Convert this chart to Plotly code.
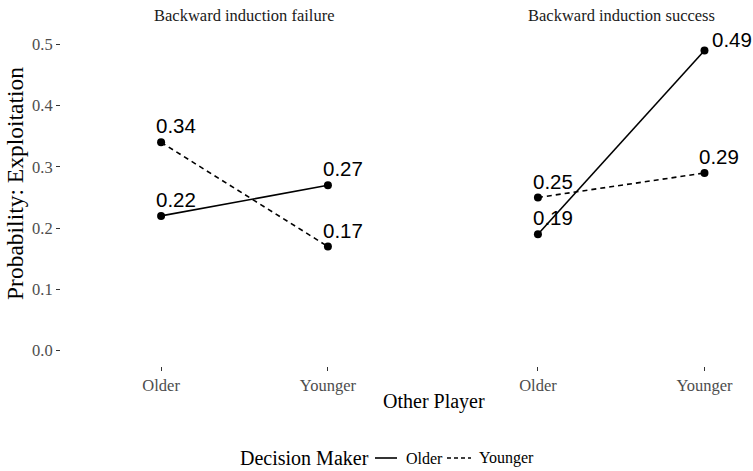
import plotly.graph_objects as go

# Categories and values
other_player = ["Older", "Younger"]
panel_titles = ["Backward induction failure", "Backward induction success"]
decision_makers = ["Older", "Younger"]

failure_older = [0.22, 0.27]
failure_younger = [0.34, 0.17]
success_older = [0.19, 0.49]
success_younger = [0.25, 0.29]

y_ticks = [0.0, 0.1, 0.2, 0.3, 0.4, 0.5]

SERIF = "Liberation Serif, Times New Roman, serif"
SANS = "Liberation Sans, Arial, sans-serif"

W, H = 753, 471
ML, MR, MT, MB = 61, 0, 29, 105
plot_w = W - ML - MR
plot_h = H - MT - MB
PANEL_BOTTOM = H - MB


def px_x(px):
    """pixel column -> paper x"""
    return (px - ML) / plot_w


def px_y(py):
    """pixel row -> paper y"""
    return (PANEL_BOTTOM - py) / plot_h


line_dash = {"Older": "solid", "Younger": "5px,4px"}

fig = go.Figure()

panels = [
    ("x", "y", {"Older": failure_older, "Younger": failure_younger}),
    ("x2", "y2", {"Older": success_older, "Younger": success_younger}),
]

# label offsets (xshift, yshift) in px; default places text up-left of point
default_shift = (-7, 3)
special_shift = {(1, "Older", 1): (6, -3)}

annotations = []
shapes = []
for p, (xa, ya, series) in enumerate(panels):
    for dm in decision_makers:
        vals = series[dm]
        fig.add_trace(go.Scatter(
            x=other_player, y=vals, xaxis=xa, yaxis=ya,
            mode="lines+markers",
            name=dm, showlegend=False,
            line=dict(color="black", width=1.6, dash=line_dash[dm]),
            marker=dict(color="black", size=8),
            hoverinfo="skip",
        ))
        for i, (cat, v) in enumerate(zip(other_player, vals)):
            xs, ys = special_shift.get((p, dm, i), default_shift)
            annotations.append(dict(
                x=cat, y=v, xref=xa, yref=ya,
                text=f"{v:.2f}", showarrow=False,
                xanchor="left", yanchor="bottom",
                xshift=xs, yshift=ys,
                font=dict(family=SANS, size=20.5, color="black"),
            ))

# facet strip titles
for xa, title in zip(["x", "x2"], panel_titles):
    annotations.append(dict(
        x=0.5, y=1.0, xref=xa, yref="paper", yshift=14,
        text=title, showarrow=False, xanchor="center", yanchor="middle",
        font=dict(family=SERIF, size=16.5, color="#1a1a1a"),
    ))

# shared axis titles
annotations.append(dict(
    x=px_x(434), y=px_y(402), xref="paper", yref="paper",
    text="Other Player", showarrow=False, xanchor="center", yanchor="middle",
    font=dict(family=SERIF, size=20, color="black"),
))
annotations.append(dict(
    x=px_x(15), y=px_y(184), xref="paper", yref="paper",
    text="Probability: Exploitation", showarrow=False, textangle=-90,
    xanchor="center", yanchor="middle",
    font=dict(family=SERIF, size=23.5, color="black"),
))

# legend: title, line keys and labels along the bottom
LEG_Y = 458
annotations.append(dict(
    x=px_x(238), y=px_y(LEG_Y), xref="paper", yref="paper",
    text="Decision Maker", showarrow=False, xanchor="left", yanchor="middle",
    font=dict(family=SERIF, size=20, color="black"),
))
legend_keys = [("Older", 375, 397, 404), ("Younger", 447, 471, 477)]
for dm, k0, k1, tx in legend_keys:
    shapes.append(dict(
        type="line", xref="paper", yref="paper",
        x0=px_x(k0), x1=px_x(k1), y0=px_y(LEG_Y), y1=px_y(LEG_Y),
        line=dict(color="black", width=1.6,
                  dash="solid" if line_dash[dm] == "solid" else "4px,3px"),
    ))
    annotations.append(dict(
        x=px_x(tx), y=px_y(LEG_Y), xref="paper", yref="paper",
        text=dm, showarrow=False, xanchor="left", yanchor="middle",
        font=dict(family=SERIF, size=16, color="black"),
    ))

d1 = px_x(428)
d2 = px_x(438)
x2_right = (W - 538) / 166.5

xaxis_common = dict(
    type="category", showgrid=False, zeroline=False, showline=False,
    ticks="outside", ticklen=4, tickwidth=1.2, tickcolor="#333333",
    tickfont=dict(family=SERIF, size=16.5, color="#4D4D4D"),
    categoryorder="array", categoryarray=other_player,
)
yaxis_common = dict(
    range=[-0.025, 0.525], showgrid=False, zeroline=False, showline=False,
    tickvals=y_ticks,
)

fig.update_layout(
    width=W, height=H,
    margin=dict(l=ML, r=MR, t=MT, b=MB, autoexpand=False),
    paper_bgcolor="white", plot_bgcolor="white",
    xaxis=dict(domain=[0, d1], range=[-0.6, 1.6], **xaxis_common),
    xaxis2=dict(domain=[d2, 1], range=[-0.6, x2_right], **xaxis_common),
    yaxis=dict(
        anchor="x", tickformat=".1f", ticks="outside", ticklen=4,
        tickwidth=1.2, tickcolor="#333333",
        tickfont=dict(family=SERIF, size=16.5, color="#4D4D4D"),
        **yaxis_common,
    ),
    yaxis2=dict(anchor="x2", matches="y", showticklabels=False, ticks="",
                **yaxis_common),
    showlegend=False,
    annotations=annotations,
    shapes=shapes,
)

fig.write_html("out.html")
